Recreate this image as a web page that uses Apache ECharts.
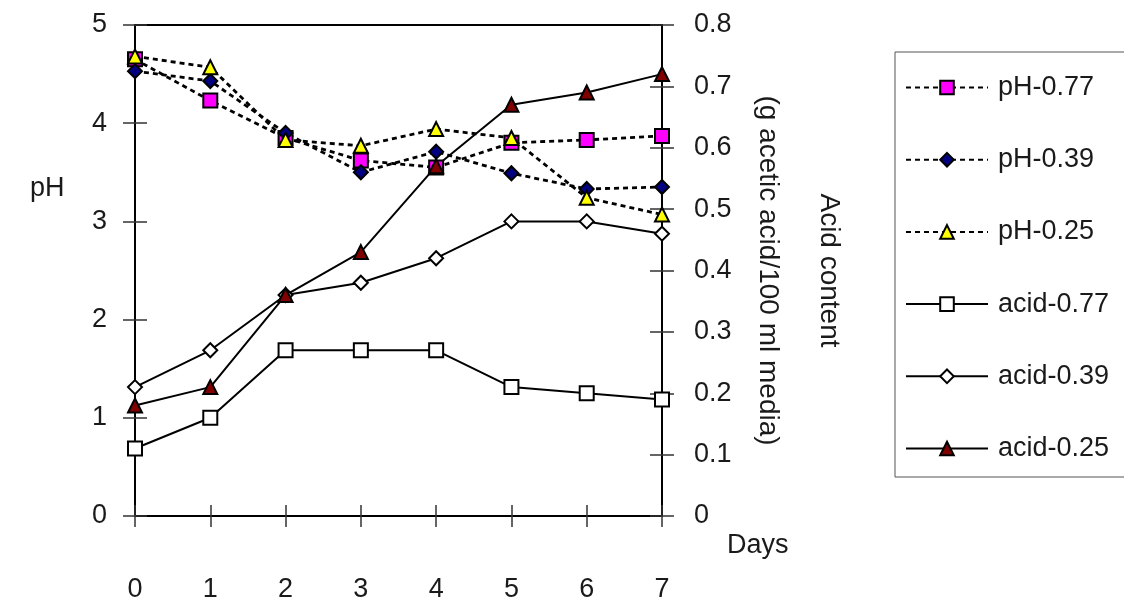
<!DOCTYPE html>
<html><head><meta charset="utf-8">
<script src="https://cdn.jsdelivr.net/npm/echarts@6/dist/echarts.min.js"></script>
<style>html,body{margin:0;padding:0;background:#fff;}#c{width:1124px;height:604px;}</style>
</head><body><div id="c"></div>
<script>
var days = ['0','1','2','3','4','5','6','7'];
var ph077 = [4.65, 4.23, 3.85, 3.62, 3.55, 3.80, 3.83, 3.87];
var ph039 = [4.53, 4.43, 3.90, 3.50, 3.71, 3.49, 3.33, 3.35];
var ph025 = [4.68, 4.57, 3.83, 3.77, 3.94, 3.85, 3.24, 3.07];
var acid077 = [0.11, 0.16, 0.27, 0.27, 0.27, 0.21, 0.20, 0.19];
var acid039 = [0.21, 0.27, 0.36, 0.38, 0.42, 0.48, 0.48, 0.46];
var acid025 = [0.18, 0.21, 0.36, 0.43, 0.57, 0.67, 0.69, 0.72];

var FONT = '"Liberation Sans", Arial, sans-serif';
var TXT = '#1a1a1a';
var FS = 27;
var chart = echarts.init(document.getElementById('c'), null, {renderer: 'canvas'});

function phSeries(name, data, symbol, color) {
  return {
    name: name, type: 'line', data: data, xAxisIndex: 0, yAxisIndex: 0,
    symbol: symbol, symbolSize: 14, showAllSymbol: true,
    lineStyle: {color: '#000', width: 2.8, type: [5, 4]},
    itemStyle: {color: color, borderColor: '#000', borderWidth: 2},
    z: 3, animation: false
  };
}
function acidSeries(name, data, symbol, color) {
  return {
    name: name, type: 'line', data: data, xAxisIndex: 0, yAxisIndex: 1,
    symbol: symbol, symbolSize: 14, showAllSymbol: true,
    lineStyle: {color: '#000', width: 2},
    itemStyle: {color: color, borderColor: '#000', borderWidth: 2},
    z: 3, animation: false
  };
}

var option = {
  backgroundColor: '#fff',
  animation: false,
  textStyle: {fontFamily: FONT, color: TXT},
  grid: {left: 135, right: 462, top: 25, bottom: 88, show: true, borderColor: '#000', borderWidth: 2, backgroundColor: 'transparent'},
  legend: {
    orient: 'vertical', left: 895, top: 52,
    itemWidth: 82, itemHeight: 17, itemGap: 45.2,
    padding: [22, 60, 15, 10],
    borderColor: '#555', borderWidth: 1,
    textStyle: {fontFamily: FONT, fontSize: FS, color: TXT, lineHeight: 27, padding: [0, 0, 0, 5]},
    data: ['pH-0.77','pH-0.39','pH-0.25','acid-0.77','acid-0.39','acid-0.25']
  },
  graphic: [
    {type: 'text', left: 30, top: 175, style: {text: 'pH', font: FS + 'px ' + FONT, fill: TXT}},
    {type: 'text', left: 727, top: 532, style: {text: 'Days', font: FS + 'px ' + FONT, fill: TXT}}
  ],
  xAxis: [
    {
      type: 'category', data: days, boundaryGap: false, position: 'bottom',
      axisLine: {lineStyle: {color: '#000', width: 2}},
      axisTick: {show: true, inside: false, length: 11, lineStyle: {color: '#333', width: 1.5}},
      axisLabel: {fontSize: FS, color: TXT, fontFamily: FONT, margin: 60, interval: 0},
      splitLine: {show: false}
    },
    {
      type: 'category', data: days, boundaryGap: false, position: 'bottom',
      axisLine: {show: false},
      axisTick: {show: true, inside: true, length: 11, lineStyle: {color: '#333', width: 1.5}},
      axisLabel: {show: false}, splitLine: {show: false}
    }
  ],
  yAxis: [
    {
      type: 'value', position: 'left', min: 0, max: 5, interval: 1,
      axisLine: {show: true, lineStyle: {color: '#000', width: 2}},
      axisTick: {show: true, inside: false, length: 12, lineStyle: {color: '#333', width: 1.5}},
      axisLabel: {fontSize: FS, color: TXT, fontFamily: FONT, margin: 28},
      splitLine: {show: false}
    },
    {
      type: 'value', position: 'right', min: 0, max: 0.8, interval: 0.1,
      name: 'Acid content\n(g acetic acid/100 ml media)',
      nameLocation: 'middle', nameRotate: -90, nameGap: 75,
      nameTextStyle: {fontSize: 28, color: TXT, fontFamily: FONT, lineHeight: 61},
      axisLine: {show: true, lineStyle: {color: '#000', width: 2}},
      axisTick: {show: true, inside: false, length: 12, lineStyle: {color: '#333', width: 1.5}},
      axisLabel: {fontSize: FS, color: TXT, fontFamily: FONT, margin: 32,
        formatter: function (v) { return v === 0 ? '0' : v.toFixed(1); }},
      splitLine: {show: false}
    },
    {
      type: 'value', position: 'left', min: 0, max: 5, interval: 1,
      axisLine: {show: false},
      axisTick: {show: true, inside: true, length: 12, lineStyle: {color: '#333', width: 1.5}},
      axisLabel: {show: false}, splitLine: {show: false}
    },
    {
      type: 'value', position: 'right', min: 0, max: 0.8, interval: 0.1,
      axisLine: {show: false},
      axisTick: {show: true, inside: true, length: 12, lineStyle: {color: '#333', width: 1.5}},
      axisLabel: {show: false}, splitLine: {show: false}
    }
  ],
  series: [
    phSeries('pH-0.77', ph077, 'rect', '#ff00ff'),
    phSeries('pH-0.39', ph039, 'diamond', '#000080'),
    phSeries('pH-0.25', ph025, 'triangle', '#ffff00'),
    acidSeries('acid-0.77', acid077, 'rect', '#ffffff'),
    acidSeries('acid-0.39', acid039, 'diamond', '#ffffff'),
    acidSeries('acid-0.25', acid025, 'triangle', '#800000')
  ]
};
chart.setOption(option);
</script>
</body></html>
